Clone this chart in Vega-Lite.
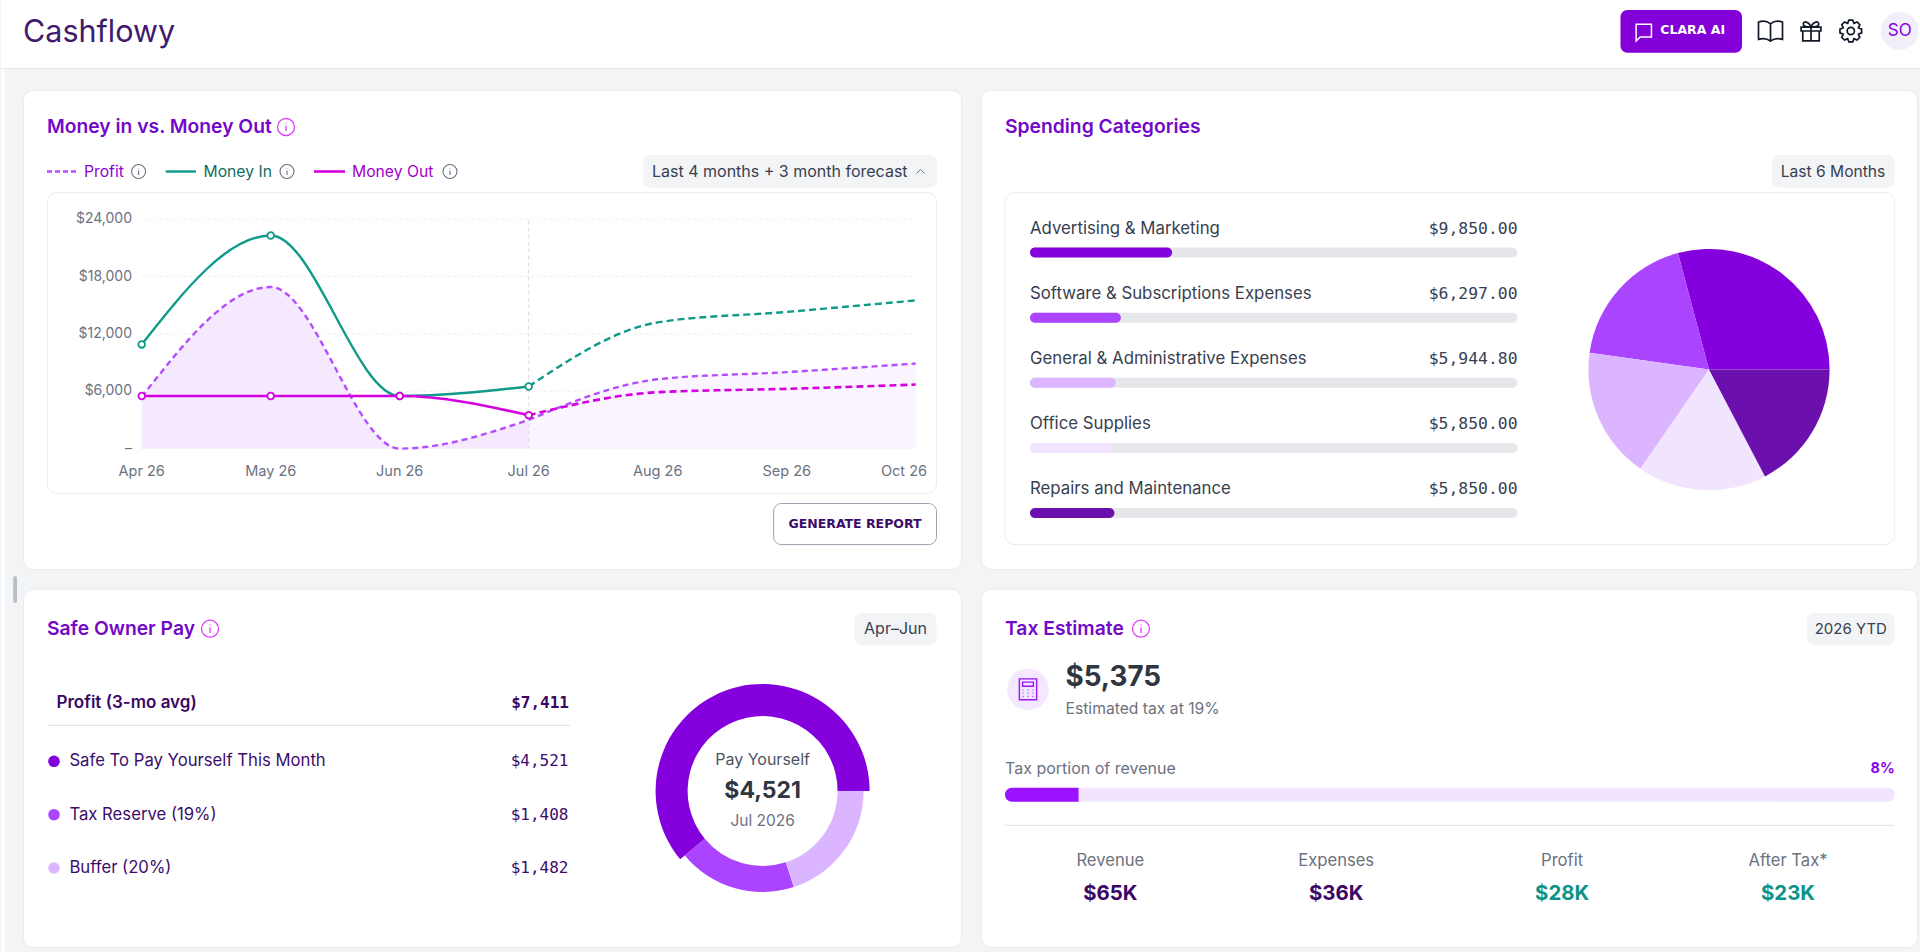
{
  "$schema": "https://vega.github.io/schema/vega-lite/v6.json",
  "description": "Cashflowy dashboard: cash flow lines, spending categories, safe owner pay and tax estimate.",
  "background": "#f3f4f6",
  "padding": 0,
  "spacing": 0,
  "resolve": {"scale": {"color": "independent", "theta": "independent"}},
  "config": {
    "axis": {"disable": true},
    "legend": {"disable": true},
    "view": {"stroke": null},
    "text": {"font": "Inter", "baseline": "middle", "color": "#374151", "fontSize": 14},
    "concat": {"spacing": 20}
  },
  "datasets": {
    "one": [{"row": 1}],
    "cashflow": [
      {"month": "Apr 26", "series": "Money In", "period": "actual", "value": 10900},
      {"month": "May 26", "series": "Money In", "period": "actual", "value": 22300},
      {"month": "Jun 26", "series": "Money In", "period": "actual", "value": 5500},
      {"month": "Jul 26", "series": "Money In", "period": "actual", "value": 6500},
      {"month": "Jul 26", "series": "Money In", "period": "forecast", "value": 6500},
      {"month": "Aug 26", "series": "Money In", "period": "forecast", "value": 13200},
      {"month": "Sep 26", "series": "Money In", "period": "forecast", "value": 14300},
      {"month": "Oct 26", "series": "Money In", "period": "forecast", "value": 15500},
      {"month": "Apr 26", "series": "Money Out", "period": "actual", "value": 5500},
      {"month": "May 26", "series": "Money Out", "period": "actual", "value": 5500},
      {"month": "Jun 26", "series": "Money Out", "period": "actual", "value": 5500},
      {"month": "Jul 26", "series": "Money Out", "period": "actual", "value": 3500},
      {"month": "Jul 26", "series": "Money Out", "period": "forecast", "value": 3500},
      {"month": "Aug 26", "series": "Money Out", "period": "forecast", "value": 5900},
      {"month": "Sep 26", "series": "Money Out", "period": "forecast", "value": 6250},
      {"month": "Oct 26", "series": "Money Out", "period": "forecast", "value": 6700},
      {"month": "Apr 26", "series": "Profit", "period": "actual", "value": 5400},
      {"month": "May 26", "series": "Profit", "period": "actual", "value": 16900},
      {"month": "Jun 26", "series": "Profit", "period": "actual", "value": 0},
      {"month": "Jul 26", "series": "Profit", "period": "actual", "value": 3000},
      {"month": "Jul 26", "series": "Profit", "period": "forecast", "value": 3000},
      {"month": "Aug 26", "series": "Profit", "period": "forecast", "value": 7250},
      {"month": "Sep 26", "series": "Profit", "period": "forecast", "value": 8000},
      {"month": "Oct 26", "series": "Profit", "period": "forecast", "value": 8900}
    ],
    "ticks": [{"tick": 0}, {"tick": 6000}, {"tick": 12000}, {"tick": 18000}, {"tick": 24000}],
    "spending": [
      {"category": "Advertising & Marketing", "amount": 9850, "rank": 1},
      {"category": "Software & Subscriptions Expenses", "amount": 6297, "rank": 2},
      {"category": "General & Administrative Expenses", "amount": 5944.8, "rank": 3},
      {"category": "Office Supplies", "amount": 5850, "rank": 4},
      {"category": "Repairs and Maintenance", "amount": 5850, "rank": 5}
    ],
    "ownerPay": [
      {"part": "Safe To Pay Yourself This Month", "amount": 4521, "rank": 1},
      {"part": "Tax Reserve (19%)", "amount": 1408, "rank": 2},
      {"part": "Buffer (20%)", "amount": 1482, "rank": 3}
    ],
    "taxMetrics": [
      {"metric": "Revenue", "shown": "$65K"},
      {"metric": "Expenses", "shown": "$36K"},
      {"metric": "Profit", "shown": "$28K"},
      {"metric": "After Tax*", "shown": "$23K"}
    ]
  },
  "vconcat": [
    {
      "width": 1920,
      "height": 69,
      "view": {"fill": "#ffffff"},
      "data": {"name": "one"},
      "layer": [
        {"mark": {"type": "rule", "color": "#e5e7eb", "strokeWidth": 1}, "encoding": {
          "x": {"datum": 0, "scale": {"domain": [0, 192], "nice": false, "zero": false}},
          "x2": {"datum": 192},
          "y": {"datum": 6.85, "scale": {"domain": [0, 6.9], "range": [0, 69], "nice": false, "zero": false}}}},
        {"mark": {"type": "text", "text": "Cashflowy", "align": "left", "fontSize": 30.5, "color": "#3f1a6e"}, "encoding": {"x": {"datum": 2.2}, "y": {"datum": 3.3}}},
        {"mark": {"type": "rect", "color": "#8300d9", "cornerRadius": 7}, "encoding": {"x": {"datum": 161.95}, "x2": {"datum": 174.1}, "y": {"datum": 1.0}, "y2": {"datum": 5.27}}},
        {"mark": {"type": "point", "shape": "M-0.85 -0.85L0.85 -0.85L0.85 0.55L-0.4 0.55L-0.85 1Z", "size": 324, "stroke": "#ffffff", "strokeWidth": 1.5, "opacity": 1}, "encoding": {"x": {"datum": 164.28}, "y": {"datum": 3.2}}},
        {"mark": {"type": "text", "text": "CLARA AI", "align": "left", "font": "DejaVu Sans", "fontSize": 12.5, "fontWeight": 700, "color": "#ffffff"}, "encoding": {"x": {"datum": 165.93}, "y": {"datum": 3.0}}},
        {"mark": {"type": "point", "shape": "M0 -0.6C-0.3 -0.85 -0.7 -0.85 -1 -0.75L-1 0.7C-0.7 0.6 -0.3 0.6 0 0.85C0.3 0.6 0.7 0.6 1 0.7L1 -0.75C0.7 -0.85 0.3 -0.85 0 -0.6L0 0.85", "size": 576, "stroke": "#111827", "strokeWidth": 1.7, "opacity": 1}, "encoding": {"x": {"datum": 176.95}, "y": {"datum": 3.1}}},
        {"mark": {"type": "point", "shape": "M-0.9 -0.35L0.9 -0.35L0.9 0L-0.9 0ZM-0.75 0L-0.75 0.9L0.75 0.9L0.75 0M0 -0.35L0 0.9M0 -0.35C-0.2 -0.9 -0.75 -0.95 -0.7 -0.6C-0.68 -0.4 -0.3 -0.35 0 -0.35C0.3 -0.35 0.68 -0.4 0.7 -0.6C0.75 -0.95 0.2 -0.9 0 -0.35", "size": 484, "stroke": "#111827", "strokeWidth": 1.7, "opacity": 1}, "encoding": {"x": {"datum": 181}, "y": {"datum": 3.1}}},
        {"mark": {"type": "point", "shape": "M0.985 -0.174L0.985 0.174L0.693 0.287L0.819 0.574L0.574 0.819L0.287 0.693L0.174 0.985L-0.174 0.985L-0.287 0.693L-0.574 0.819L-0.819 0.574L-0.693 0.287L-0.985 0.174L-0.985 -0.174L-0.693 -0.287L-0.819 -0.574L-0.574 -0.819L-0.287 -0.693L-0.174 -0.985L0.174 -0.985L0.287 -0.693L0.574 -0.819L0.819 -0.574L0.693 -0.287ZM0.33 0A0.33 0.33 0 1 1 -0.33 0A0.33 0.33 0 1 1 0.33 0Z", "size": 484, "stroke": "#111827", "strokeWidth": 1.7, "opacity": 1}, "encoding": {"x": {"datum": 184.98}, "y": {"datum": 3.1}}},
        {"mark": {"type": "point", "filled": true, "shape": "circle", "size": 1440, "color": "#f1effa", "opacity": 1}, "encoding": {"x": {"datum": 189.87}, "y": {"datum": 3.1}}},
        {"mark": {"type": "text", "text": "SO", "fontSize": 17, "color": "#8a00e0"}, "encoding": {"x": {"datum": 189.87}, "y": {"datum": 3.1}}}
      ]
    },
    {
      "spacing": 0,
      "resolve": {"scale": {"color": "independent", "theta": "independent"}},
      "hconcat": [
        {
          "width": 21,
          "height": 883,
          "data": {"name": "one"},
          "layer": [
            {"mark": {"type": "rect", "color": "#fbfcfd"}, "encoding": {
              "x": {"datum": 0, "scale": {"domain": [0, 2.1], "nice": false, "zero": false}},
              "x2": {"datum": 0.42},
              "y": {"datum": 0, "scale": {"domain": [0, 88.3], "range": [0, 883], "nice": false, "zero": false}},
              "y2": {"datum": 88.3}}},
            {"mark": {"type": "rect", "color": "#b9bec6", "cornerRadius": 2}, "encoding": {"x": {"datum": 1.22}, "x2": {"datum": 1.6}, "y": {"datum": 50.7}, "y2": {"datum": 53.4}}}
          ]
        },
        {
          "spacing": 0,
          "resolve": {"scale": {"color": "independent", "theta": "independent"}},
          "vconcat": [
            {"width": 1, "height": 20, "data": {"name": "one"}, "mark": {"type": "rect", "opacity": 0}},
            {
              "spacing": 18,
              "resolve": {"scale": {"color": "independent", "theta": "independent"}},
              "vconcat": [
                {
                  "spacing": 20,
                  "bounds": "flush",
                  "resolve": {"scale": {"color": "independent", "theta": "independent"}},
                  "hconcat": [
                    {
                      "width": 938,
                      "height": 479,
                      "view": {"fill": "#ffffff", "stroke": "#e9ebef", "cornerRadius": 10},
                      "data": {"name": "one"},
                      "resolve": {"scale": {"x": "independent", "y": "independent"}},
                      "layer": [
                        {
                          "layer": [
                            {"mark": {"type": "rect", "fill": "#ffffff", "stroke": "#e9ebef", "cornerRadius": 10}, "encoding": {
                              "x": {"datum": 2.44, "scale": {"domain": [0, 93.8], "nice": false, "zero": false}},
                              "x2": {"datum": 91.35},
                              "y": {"datum": 10.26, "scale": {"domain": [0, 47.9], "range": [0, 479], "nice": false, "zero": false}},
                              "y2": {"datum": 40.34}}},
                            {"mark": {"type": "text", "text": "Money in vs. Money Out", "align": "left", "fontSize": 19.3, "fontWeight": 600, "color": "#7209c9"}, "encoding": {"x": {"datum": 2.4}, "y": {"datum": 3.7}}},
                            {"mark": {"type": "point", "shape": "M1 0A1 1 0 1 1 -1 0A1 1 0 1 1 1 0ZM0 -0.15L0 0.5M0 -0.5L0 -0.42", "size": 289, "stroke": "#e040fb", "strokeWidth": 1.3, "opacity": 1}, "encoding": {"x": {"datum": 26.3}, "y": {"datum": 3.7}}},
                            {"mark": {"type": "rule", "color": "#b44dff", "strokeWidth": 2.4, "strokeDash": [5, 3]}, "encoding": {"x": {"datum": 2.4}, "x2": {"datum": 5.4}, "y": {"datum": 8.15}}},
                            {"mark": {"type": "text", "text": "Profit", "align": "left", "fontSize": 15.7, "color": "#8f00d8"}, "encoding": {"x": {"datum": 6.1}, "y": {"datum": 8.15}}},
                            {"mark": {"type": "point", "shape": "M1 0A1 1 0 1 1 -1 0A1 1 0 1 1 1 0ZM0 -0.15L0 0.5M0 -0.5L0 -0.42", "size": 196, "stroke": "#6b7280", "strokeWidth": 1.1, "opacity": 1}, "encoding": {"x": {"datum": 11.56}, "y": {"datum": 8.15}}},
                            {"mark": {"type": "rule", "color": "#0f9a8a", "strokeWidth": 2.4}, "encoding": {"x": {"datum": 14.26}, "x2": {"datum": 17.3}, "y": {"datum": 8.15}}},
                            {"mark": {"type": "text", "text": "Money In", "align": "left", "fontSize": 15.7, "color": "#0f6e62"}, "encoding": {"x": {"datum": 18.05}, "y": {"datum": 8.15}}},
                            {"mark": {"type": "point", "shape": "M1 0A1 1 0 1 1 -1 0A1 1 0 1 1 1 0ZM0 -0.15L0 0.5M0 -0.5L0 -0.42", "size": 196, "stroke": "#6b7280", "strokeWidth": 1.1, "opacity": 1}, "encoding": {"x": {"datum": 26.4}, "y": {"datum": 8.15}}},
                            {"mark": {"type": "rule", "color": "#d400e0", "strokeWidth": 2.6}, "encoding": {"x": {"datum": 29.1}, "x2": {"datum": 32.2}, "y": {"datum": 8.15}}},
                            {"mark": {"type": "text", "text": "Money Out", "align": "left", "fontSize": 15.7, "color": "#a000c8"}, "encoding": {"x": {"datum": 32.9}, "y": {"datum": 8.15}}},
                            {"mark": {"type": "point", "shape": "M1 0A1 1 0 1 1 -1 0A1 1 0 1 1 1 0ZM0 -0.15L0 0.5M0 -0.5L0 -0.42", "size": 196, "stroke": "#6b7280", "strokeWidth": 1.1, "opacity": 1}, "encoding": {"x": {"datum": 42.7}, "y": {"datum": 8.15}}},
                            {"mark": {"type": "rect", "color": "#f3f4f6", "cornerRadius": 7}, "encoding": {"x": {"datum": 62.0}, "x2": {"datum": 91.4}, "y": {"datum": 6.5}, "y2": {"datum": 9.75}}},
                            {"mark": {"type": "text", "text": "Last 4 months + 3 month forecast", "align": "left", "fontSize": 16}, "encoding": {"x": {"datum": 62.9}, "y": {"datum": 8.15}}},
                            {"mark": {"type": "point", "shape": "M-1 0.5L0 -0.5L1 0.5", "size": 64, "stroke": "#6b7280", "strokeWidth": 1, "opacity": 1}, "encoding": {"x": {"datum": 89.76}, "y": {"datum": 8.15}}},
                            {"mark": {"type": "rect", "fill": "#ffffff", "stroke": "#9ca3af", "cornerRadius": 8}, "encoding": {"x": {"datum": 75.06}, "x2": {"datum": 91.35}, "y": {"datum": 41.35}, "y2": {"datum": 45.46}}},
                            {"mark": {"type": "text", "text": "GENERATE REPORT", "font": "DejaVu Sans", "fontSize": 12.5, "fontWeight": 700, "color": "#3b0d6b"}, "encoding": {"x": {"datum": 83.2}, "y": {"datum": 43.4}}}
                          ]
                        },
                        {
                          "data": {"name": "cashflow"},
                          "layer": [
                            {"data": {"name": "ticks"}, "mark": {"type": "rule", "color": "#eeeff2", "strokeDash": [3, 3]}, "encoding": {
                              "x": {"datum": "Apr 26", "type": "nominal"},
                              "x2": {"datum": "Oct 26"},
                              "y": {"field": "tick", "type": "quantitative",
                                "scale": {"domain": [0, 24000], "range": [358.6, 129.2], "nice": false}}}},
                            {"data": {"name": "ticks"}, "mark": {"type": "text", "align": "right", "dx": -9.7, "fontSize": 14, "color": "#6b7280"}, "encoding": {
                              "x": {"datum": "Apr 26", "type": "nominal"},
                              "y": {"field": "tick", "type": "quantitative"},
                              "text": {"condition": {"test": "datum.tick === 0", "value": "–"}, "field": "tick", "type": "quantitative", "format": "$,"}}},
                            {"transform": [{"filter": "datum.series == 'Profit' && datum.period == 'actual'"}], "mark": {"type": "area", "interpolate": "monotone", "color": "#f5e9fd", "opacity": 1}, "encoding": {
                              "x": {"field": "month", "type": "nominal",
                                "scale": {"type": "point", "domain": ["Apr 26", "May 26", "Jun 26", "Jul 26", "Aug 26", "Sep 26", "Oct 26"], "range": [118.7, 892.7], "padding": 0}},
                              "y": {"field": "value", "type": "quantitative", "stack": null}}},
                            {"transform": [{"filter": "datum.series == 'Profit' && datum.period == 'forecast'"}], "mark": {"type": "area", "interpolate": "monotone", "color": "#faf5fe", "opacity": 1}, "encoding": {
                              "x": {"field": "month", "type": "nominal"},
                              "y": {"field": "value", "type": "quantitative", "stack": null}}},
                            {"transform": [{"filter": "datum.series == 'Profit' && (datum.period == 'actual' || datum.month != 'Jul 26')"}], "mark": {"type": "text", "dy": 23.4, "dx": {"expr": "datum.month == 'Oct 26' ? -11.7 : 0"}, "fontSize": 14.5, "color": "#6b7280"}, "encoding": {
                              "x": {"field": "month", "type": "nominal"},
                              "y": {"datum": 0},
                              "text": {"field": "month", "type": "nominal"}}},
                            {"data": {"name": "one"}, "mark": {"type": "rule", "color": "#d9dbe0", "strokeDash": [4, 3]}, "encoding": {
                              "x": {"datum": "Jul 26", "type": "nominal"},
                              "y": {"datum": 0},
                              "y2": {"datum": 24000}}},
                            {"transform": [{"filter": "datum.series == 'Profit'"}], "mark": {"type": "line", "interpolate": "monotone", "color": "#b44dff", "strokeWidth": 2.4, "strokeDash": [6, 4]}, "encoding": {
                              "x": {"field": "month", "type": "nominal"},
                              "y": {"field": "value", "type": "quantitative"},
                              "detail": {"field": "period"}}},
                            {"transform": [{"filter": "datum.series == 'Money In' && datum.period == 'forecast'"}], "mark": {"type": "line", "interpolate": "monotone", "color": "#0f9a8a", "strokeWidth": 2.4, "strokeDash": [7, 4]}, "encoding": {
                              "x": {"field": "month", "type": "nominal"},
                              "y": {"field": "value", "type": "quantitative"}}},
                            {"transform": [{"filter": "datum.series == 'Money Out' && datum.period == 'forecast'"}], "mark": {"type": "line", "interpolate": "monotone", "color": "#d400e0", "strokeWidth": 2.6, "strokeDash": [7, 4]}, "encoding": {
                              "x": {"field": "month", "type": "nominal"},
                              "y": {"field": "value", "type": "quantitative"}}},
                            {"transform": [{"filter": "datum.series == 'Money In' && datum.period == 'actual'"}], "mark": {"type": "line", "interpolate": "monotone", "color": "#0f9a8a", "strokeWidth": 2.4}, "encoding": {
                              "x": {"field": "month", "type": "nominal"},
                              "y": {"field": "value", "type": "quantitative"}}},
                            {"transform": [{"filter": "datum.series == 'Money Out' && datum.period == 'actual'"}], "mark": {"type": "line", "interpolate": "monotone", "color": "#d400e0", "strokeWidth": 2.6}, "encoding": {
                              "x": {"field": "month", "type": "nominal"},
                              "y": {"field": "value", "type": "quantitative"}}},
                            {"transform": [{"filter": "datum.series == 'Money In' && datum.period == 'actual'"}], "mark": {"type": "point", "fill": "#ffffff", "stroke": "#0f9a8a", "strokeWidth": 1.8, "size": 44, "opacity": 1}, "encoding": {
                              "x": {"field": "month", "type": "nominal"},
                              "y": {"field": "value", "type": "quantitative"}}},
                            {"transform": [{"filter": "datum.series == 'Money Out' && datum.period == 'actual'"}], "mark": {"type": "point", "fill": "#ffffff", "stroke": "#d400e0", "strokeWidth": 1.8, "size": 44, "opacity": 1}, "encoding": {
                              "x": {"field": "month", "type": "nominal"},
                              "y": {"field": "value", "type": "quantitative"}}}
                          ]
                        }
                      ]
                    },
                    {
                      "width": 936,
                      "height": 479,
                      "view": {"fill": "#ffffff", "stroke": "#e9ebef", "cornerRadius": 10},
                      "data": {"name": "one"},
                      "resolve": {"scale": {"x": "independent", "y": "independent", "color": "independent"}},
                      "layer": [
                        {
                          "layer": [
                            {"mark": {"type": "rect", "fill": "#ffffff", "stroke": "#e9ebef", "cornerRadius": 10}, "encoding": {
                              "x": {"datum": 2.4, "scale": {"domain": [0, 93.6], "nice": false, "zero": false}},
                              "x2": {"datum": 91.37},
                              "y": {"datum": 10.26, "scale": {"domain": [0, 47.9], "range": [0, 479], "nice": false, "zero": false}},
                              "y2": {"datum": 45.46}}},
                            {"mark": {"type": "text", "text": "Spending Categories", "align": "left", "fontSize": 19.3, "fontWeight": 600, "color": "#7209c9"}, "encoding": {"x": {"datum": 2.4}, "y": {"datum": 3.7}}},
                            {"mark": {"type": "rect", "color": "#f3f4f6", "cornerRadius": 7}, "encoding": {"x": {"datum": 79.1}, "x2": {"datum": 91.37}, "y": {"datum": 6.5}, "y2": {"datum": 9.75}}},
                            {"mark": {"type": "text", "text": "Last 6 Months", "fontSize": 15.6}, "encoding": {"x": {"datum": 85.2}, "y": {"datum": 8.15}}},
                            {"data": {"name": "spending"}, "mark": {"type": "arc", "outerRadius": 120.6}, "encoding": {
                              "x": {"datum": 72.8},
                              "y": {"datum": 27.96},
                              "theta": {"field": "amount", "type": "quantitative", "stack": true, "scale": {"range": [1.5708, 7.854]}},
                              "order": {"field": "rank", "type": "quantitative", "sort": "descending"},
                              "color": {"field": "category", "type": "nominal", "scale": {"domain": ["Advertising & Marketing", "Software & Subscriptions Expenses", "General & Administrative Expenses", "Office Supplies", "Repairs and Maintenance"], "range": ["#8400dc", "#aa44ff", "#dbb5ff", "#f1e4fe", "#6c10ad"]}}}}
                          ]
                        },
                        {
                          "data": {"name": "spending"},
                          "layer": [
                            {"mark": {"type": "bar", "size": 10, "cornerRadius": 5, "color": "#e5e7eb"}, "encoding": {
                              "x": {"datum": 33791.8, "scale": {"domain": [0, 33791.8], "range": [49, 536.5], "nice": false}},
                              "x2": {"datum": 0},
                              "y": {"field": "category", "type": "nominal", "sort": null, "scale": {"type": "point", "domain": ["Advertising & Marketing", "Software & Subscriptions Expenses", "General & Administrative Expenses", "Office Supplies", "Repairs and Maintenance"], "range": [162.6, 423], "padding": 0}}}},
                            {"mark": {"type": "bar", "size": 10, "cornerRadius": 5}, "encoding": {
                              "x": {"field": "amount", "type": "quantitative", "stack": null},
                              "x2": {"datum": 0},
                              "y": {"field": "category", "type": "nominal", "sort": null},
                              "color": {"field": "category", "type": "nominal", "scale": {"domain": ["Advertising & Marketing", "Software & Subscriptions Expenses", "General & Administrative Expenses", "Office Supplies", "Repairs and Maintenance"], "range": ["#8400dc", "#aa44ff", "#dbb5ff", "#f1e4fe", "#6c10ad"]}}}},
                            {"mark": {"type": "text", "align": "left", "dy": -23.6, "fontSize": 16.8}, "encoding": {
                              "x": {"datum": 0},
                              "y": {"field": "category", "type": "nominal", "sort": null},
                              "text": {"field": "category", "type": "nominal"}}},
                            {"mark": {"type": "text", "align": "right", "dy": -23.6, "font": "DejaVu Sans Mono", "fontSize": 16.4}, "encoding": {
                              "x": {"datum": 33791.8},
                              "y": {"field": "category", "type": "nominal", "sort": null},
                              "text": {"field": "amount", "type": "quantitative", "format": "$,.2f"}}}
                          ]
                        }
                      ]
                    }
                  ]
                },
                {
                  "spacing": 20,
                  "bounds": "flush",
                  "resolve": {"scale": {"color": "independent", "theta": "independent"}},
                  "hconcat": [
                    {
                      "width": 938,
                      "height": 358,
                      "view": {"fill": "#ffffff", "stroke": "#e9ebef", "cornerRadius": 10},
                      "data": {"name": "one"},
                      "resolve": {"scale": {"x": "independent", "y": "independent"}},
                      "layer": [
                        {
                          "layer": [
                            {"mark": {"type": "text", "text": "Safe Owner Pay", "align": "left", "fontSize": 19.3, "fontWeight": 600, "color": "#7209c9"}, "encoding": {
                              "x": {"datum": 2.4, "scale": {"domain": [0, 93.8], "nice": false, "zero": false}},
                              "y": {"datum": 3.97, "scale": {"domain": [0, 35.8], "range": [0, 358], "nice": false, "zero": false}}}},
                            {"mark": {"type": "point", "shape": "M1 0A1 1 0 1 1 -1 0A1 1 0 1 1 1 0ZM0 -0.15L0 0.5M0 -0.5L0 -0.42", "size": 289, "stroke": "#e040fb", "strokeWidth": 1.3, "opacity": 1}, "encoding": {"x": {"datum": 18.7}, "y": {"datum": 3.97}}},
                            {"mark": {"type": "rect", "color": "#f3f4f6", "cornerRadius": 7}, "encoding": {"x": {"datum": 83.15}, "x2": {"datum": 91.35}, "y": {"datum": 2.4}, "y2": {"datum": 5.63}}},
                            {"mark": {"type": "text", "text": "Apr–Jun", "fontSize": 16}, "encoding": {"x": {"datum": 87.25}, "y": {"datum": 3.97}}},
                            {"mark": {"type": "text", "text": "Profit (3-mo avg)", "align": "left", "fontSize": 17, "fontWeight": 600, "color": "#3b0764"}, "encoding": {"x": {"datum": 3.35}, "y": {"datum": 11.43}}},
                            {"data": {"values": [{"avg": 7411}]}, "mark": {"type": "text", "align": "right", "font": "DejaVu Sans Mono", "fontSize": 16, "fontWeight": 700, "color": "#3b0764"}, "encoding": {"x": {"datum": 54.6}, "y": {"datum": 11.43}, "text": {"field": "avg", "type": "quantitative", "format": "$,"}}},
                            {"mark": {"type": "rule", "color": "#e5e7eb", "strokeWidth": 1.2}, "encoding": {"x": {"datum": 2.4}, "x2": {"datum": 54.7}, "y": {"datum": 13.63}}},
                            {"data": {"name": "ownerPay"}, "transform": [{"stack": "amount", "groupby": [], "sort": [{"field": "rank", "order": "descending"}], "as": ["from", "to"]}, {"filter": "datum.rank != 1"}], "mark": {"type": "arc", "innerRadius": 75, "outerRadius": 101}, "encoding": {
                              "x": {"datum": 73.96},
                              "y": {"datum": 20.2},
                              "theta": {"field": "from", "type": "quantitative", "stack": null, "scale": {"domain": [0, 7411], "range": [1.5708, 7.854]}},
                              "theta2": {"field": "to"},
                              "color": {"field": "part", "type": "nominal", "scale": {"domain": ["Safe To Pay Yourself This Month", "Tax Reserve (19%)", "Buffer (20%)"], "range": ["#8400dc", "#aa44ff", "#dbb5ff"]}}}},
                            {"data": {"name": "ownerPay"}, "transform": [{"stack": "amount", "groupby": [], "sort": [{"field": "rank", "order": "descending"}], "as": ["from", "to"]}, {"filter": "datum.rank == 1"}], "mark": {"type": "arc", "innerRadius": 75, "outerRadius": 107}, "encoding": {
                              "x": {"datum": 73.96},
                              "y": {"datum": 20.2},
                              "theta": {"field": "from", "type": "quantitative", "stack": null},
                              "theta2": {"field": "to"},
                              "color": {"field": "part", "type": "nominal"}}},
                            {"mark": {"type": "text", "text": "Pay Yourself", "fontSize": 16, "color": "#4b5563"}, "encoding": {"x": {"datum": 73.96}, "y": {"datum": 17.13}}},
                            {"data": {"values": [{"pay": 4521}]}, "mark": {"type": "text", "fontSize": 23, "fontWeight": 700, "color": "#2f3640"}, "encoding": {"x": {"datum": 73.96}, "y": {"datum": 20.2}, "text": {"field": "pay", "type": "quantitative", "format": "$,"}}},
                            {"mark": {"type": "text", "text": "Jul 2026", "fontSize": 15.5, "color": "#6b7280"}, "encoding": {"x": {"datum": 73.96}, "y": {"datum": 23.2}}}
                          ]
                        },
                        {
                          "data": {"name": "ownerPay"},
                          "layer": [
                            {"mark": {"type": "point", "filled": true, "size": 133, "opacity": 1}, "encoding": {
                              "x": {"datum": 3.1, "scale": {"domain": [0, 93.8], "nice": false, "zero": false}},
                              "y": {"field": "part", "type": "nominal", "sort": null, "scale": {"type": "point", "domain": ["Safe To Pay Yourself This Month", "Tax Reserve (19%)", "Buffer (20%)"], "range": [172.3, 279], "padding": 0}},
                              "color": {"field": "part", "type": "nominal"}}},
                            {"mark": {"type": "text", "align": "left", "fontSize": 16.7, "color": "#3b0d6b"}, "encoding": {
                              "x": {"datum": 4.64},
                              "y": {"field": "part", "type": "nominal", "sort": null},
                              "text": {"field": "part", "type": "nominal"}}},
                            {"mark": {"type": "text", "align": "right", "font": "DejaVu Sans Mono", "fontSize": 16, "color": "#3b0d6b"}, "encoding": {
                              "x": {"datum": 54.55},
                              "y": {"field": "part", "type": "nominal", "sort": null},
                              "text": {"field": "amount", "type": "quantitative", "format": "$,"}}}
                          ]
                        }
                      ]
                    },
                    {
                      "width": 936,
                      "height": 358,
                      "view": {"fill": "#ffffff", "stroke": "#e9ebef", "cornerRadius": 10},
                      "data": {"name": "one"},
                      "resolve": {"scale": {"x": "independent", "color": "independent"}},
                      "layer": [
                        {
                          "layer": [
                            {"mark": {"type": "text", "text": "Tax Estimate", "align": "left", "fontSize": 19.3, "fontWeight": 600, "color": "#7209c9"}, "encoding": {
                              "x": {"datum": 2.4, "scale": {"domain": [0, 93.6], "nice": false, "zero": false}},
                              "y": {"datum": 3.97, "scale": {"domain": [0, 35.8], "range": [0, 358], "nice": false, "zero": false}}}},
                            {"mark": {"type": "point", "shape": "M1 0A1 1 0 1 1 -1 0A1 1 0 1 1 1 0ZM0 -0.15L0 0.5M0 -0.5L0 -0.42", "size": 289, "stroke": "#e040fb", "strokeWidth": 1.3, "opacity": 1}, "encoding": {"x": {"datum": 16}, "y": {"datum": 3.97}}},
                            {"mark": {"type": "rect", "color": "#f3f4f6", "cornerRadius": 7}, "encoding": {"x": {"datum": 82.6}, "x2": {"datum": 91.37}, "y": {"datum": 2.4}, "y2": {"datum": 5.63}}},
                            {"mark": {"type": "text", "text": "2026 YTD", "fontSize": 15}, "encoding": {"x": {"datum": 86.98}, "y": {"datum": 3.97}}},
                            {"mark": {"type": "point", "filled": true, "shape": "circle", "size": 1735, "color": "#f3e8ff", "opacity": 1}, "encoding": {"x": {"datum": 4.7}, "y": {"datum": 10.03}}},
                            {"mark": {"type": "point", "shape": "M-0.72 -0.87L0.72 -0.87L0.72 0.87L-0.72 0.87ZM-0.45 -0.6L0.45 -0.6L0.45 -0.25L-0.45 -0.25ZM-0.45 0.05L-0.38 0.05M-0.03 0.05L0.04 0.05M0.38 0.05L0.45 0.05M-0.45 0.32L-0.38 0.32M-0.03 0.32L0.04 0.32M0.38 0.32L0.45 0.32M-0.45 0.6L-0.38 0.6M-0.03 0.6L0.04 0.6M0.38 0.6L0.45 0.6", "size": 576, "stroke": "#9a12ff", "strokeWidth": 1.4, "opacity": 1}, "encoding": {"x": {"datum": 4.7}, "y": {"datum": 10.03}}},
                            {"data": {"values": [{"tax": 5375}]}, "mark": {"type": "text", "align": "left", "fontSize": 27.8, "fontWeight": 700, "color": "#2f3640"}, "encoding": {"x": {"datum": 8.45}, "y": {"datum": 8.87}, "text": {"field": "tax", "type": "quantitative", "format": "$,"}}},
                            {"mark": {"type": "text", "text": "Estimated tax at 19%", "align": "left", "fontSize": 15.7, "color": "#6b7280"}, "encoding": {"x": {"datum": 8.45}, "y": {"datum": 11.97}}},
                            {"mark": {"type": "text", "text": "Tax portion of revenue", "align": "left", "fontSize": 16, "color": "#6b7280"}, "encoding": {"x": {"datum": 2.4}, "y": {"datum": 18.03}}},
                            {"data": {"values": [{"share": 0.08}]}, "mark": {"type": "text", "align": "right", "fontSize": 14.5, "fontWeight": 700, "color": "#8a00e6"}, "encoding": {"x": {"datum": 91.37}, "y": {"datum": 18.03}, "text": {"field": "share", "type": "quantitative", "format": ".0%"}}}
                          ]
                        },
                        {
                          "data": {"values": [{"revenue": 65000, "tax": 5375}]},
                          "layer": [
                            {"mark": {"type": "rect", "color": "#f1e4fe", "cornerRadius": 7}, "encoding": {
                              "x": {"field": "revenue", "type": "quantitative", "scale": {"domain": [0, 65000], "range": [24, 913.7], "nice": false}},
                              "x2": {"datum": 0},
                              "y": {"datum": 19.87},
                              "y2": {"datum": 21.27}}},
                            {"mark": {"type": "rect", "color": "#9a12ff", "cornerRadiusTopLeft": 7, "cornerRadiusBottomLeft": 7}, "encoding": {
                              "x": {"field": "tax", "type": "quantitative"},
                              "x2": {"datum": 0},
                              "y": {"datum": 19.87},
                              "y2": {"datum": 21.27}}},
                            {"mark": {"type": "rule", "color": "#e5e7eb", "strokeWidth": 1.2}, "encoding": {
                              "x": {"field": "revenue", "type": "quantitative"},
                              "x2": {"datum": 0},
                              "y": {"datum": 23.63}}}
                          ]
                        },
                        {
                          "data": {"name": "taxMetrics"},
                          "layer": [
                            {"mark": {"type": "text", "fontSize": 16.6, "color": "#6b7280"}, "encoding": {
                              "x": {"field": "metric", "type": "nominal", "sort": null, "scale": {"type": "point", "domain": ["Revenue", "Expenses", "Profit", "After Tax*"], "range": [129.3, 807], "padding": 0}},
                              "y": {"datum": 27.2},
                              "text": {"field": "metric", "type": "nominal"}}},
                            {"mark": {"type": "text", "fontSize": 20.4, "fontWeight": 700}, "encoding": {
                              "x": {"field": "metric", "type": "nominal", "sort": null},
                              "y": {"datum": 30.47},
                              "text": {"field": "shown", "type": "nominal"},
                              "color": {"field": "metric", "type": "nominal", "scale": {"domain": ["Revenue", "Expenses", "Profit", "After Tax*"], "range": ["#3b0764", "#3b0764", "#0d9488", "#0d9488"]}}}}
                          ]
                        }
                      ]
                    }
                  ]
                }
              ]
            }
          ]
        }
      ]
    }
  ]
}
